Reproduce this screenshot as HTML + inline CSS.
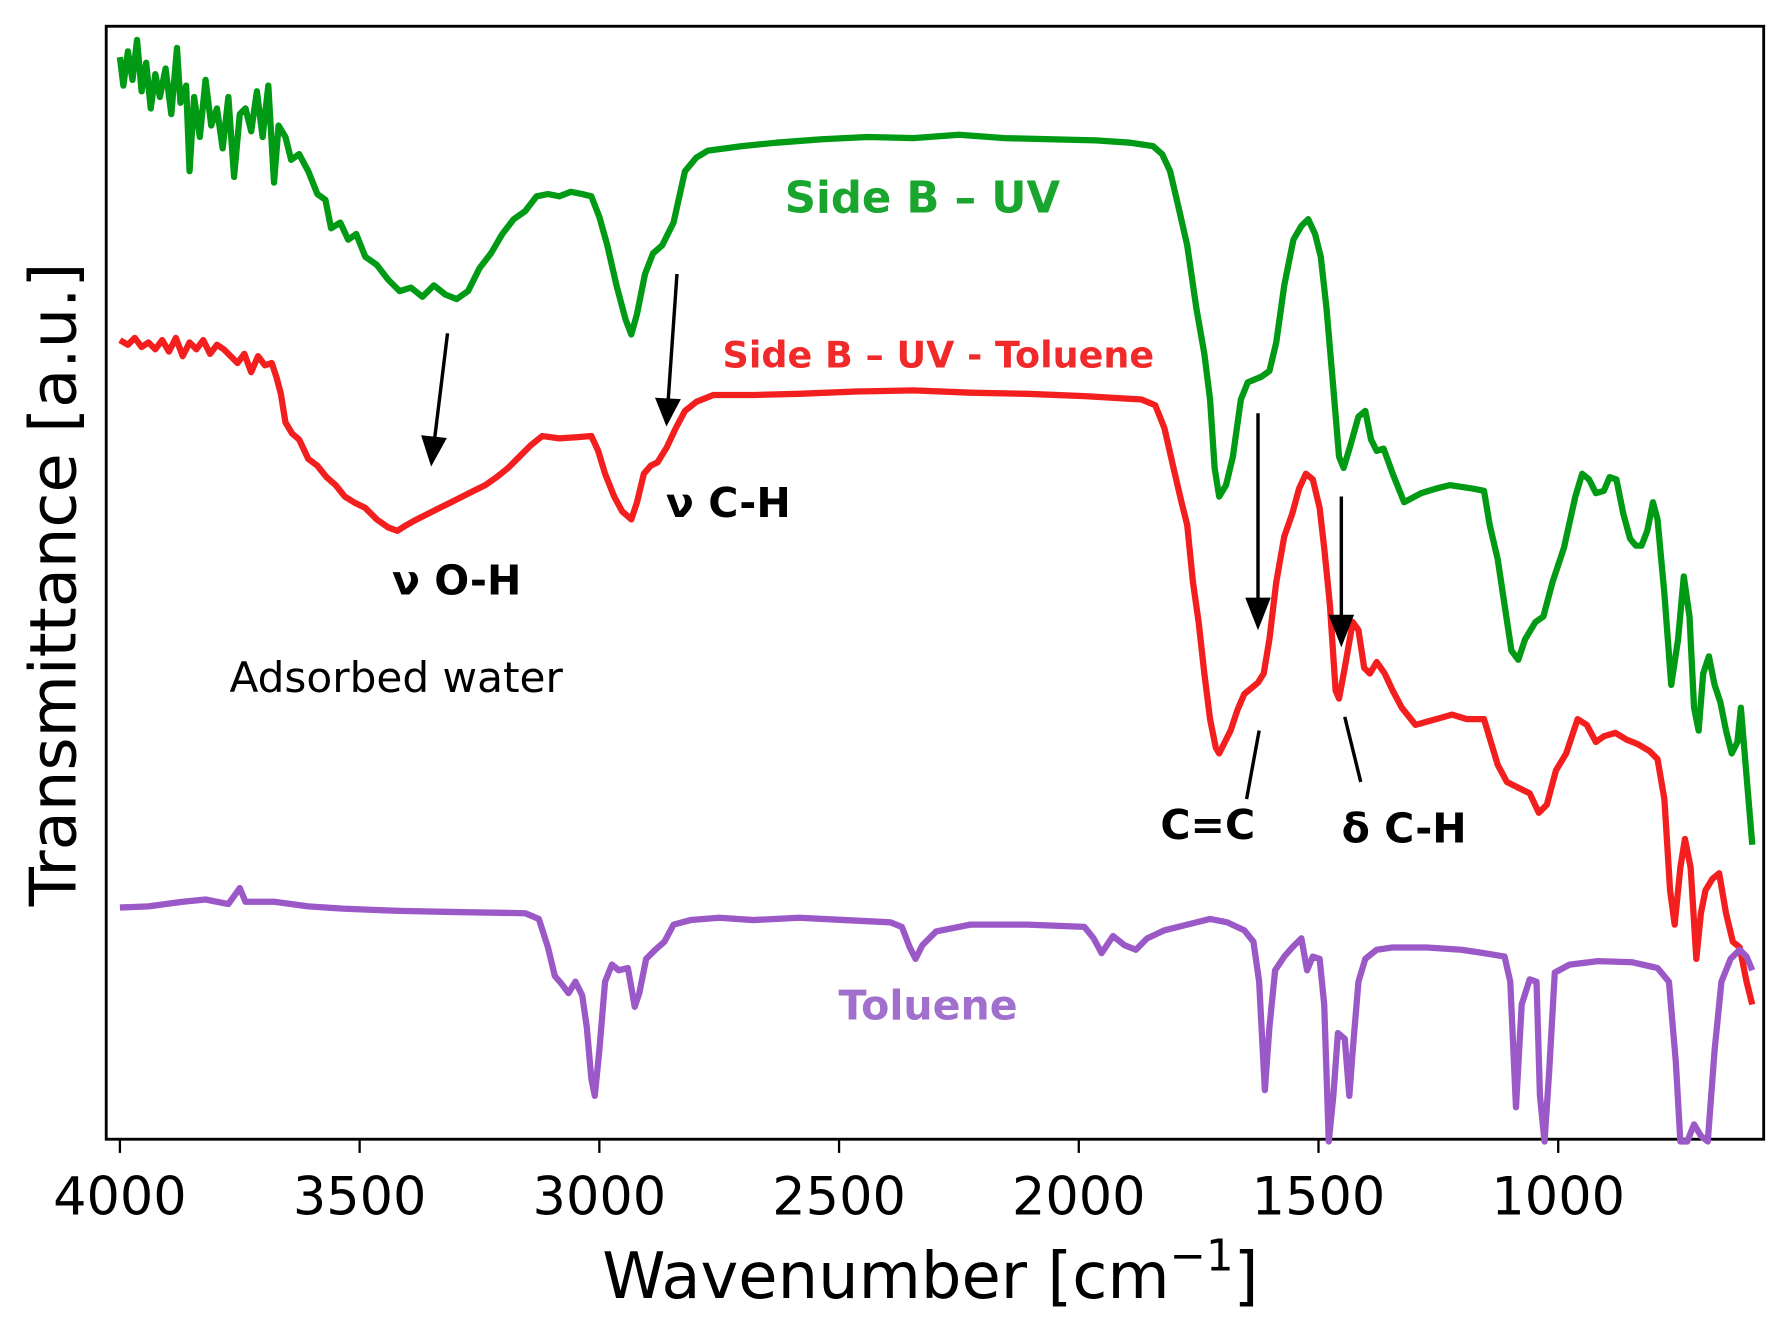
<!DOCTYPE html>
<html><head><meta charset="utf-8"><style>html,body{margin:0;padding:0;background:#fff}svg{display:block}</style></head>
<body>
<svg width="1790" height="1331" viewBox="0 0 1568 1166" xmlns="http://www.w3.org/2000/svg" font-family="DejaVu Sans, Liberation Sans, sans-serif">
<rect x="0" y="0" width="1568" height="1166" fill="#fff"/>
<rect x="93" y="23" width="1452" height="975" fill="none" stroke="#000" stroke-width="2.5"/>
<g stroke="#000" stroke-width="2">
<line x1="105" y1="998" x2="105" y2="1010"/><line x1="315" y1="998" x2="315" y2="1010"/><line x1="525" y1="998" x2="525" y2="1010"/><line x1="735" y1="998" x2="735" y2="1010"/><line x1="945" y1="998" x2="945" y2="1010"/><line x1="1155" y1="998" x2="1155" y2="1010"/><line x1="1365" y1="998" x2="1365" y2="1010"/>
</g>
<g font-size="46" text-anchor="middle" fill="#000">
<text x="105" y="1064">4000</text><text x="315" y="1064">3500</text><text x="525" y="1064">3000</text><text x="735" y="1064">2500</text><text x="945" y="1064">2000</text><text x="1155" y="1064">1500</text><text x="1365" y="1064">1000</text>
</g>
<text x="815" y="1137" font-size="56" text-anchor="middle">Wavenumber [cm<tspan font-size="38" dy="-24">−1</tspan><tspan dy="24">]</tspan></text>
<text transform="translate(66,512) rotate(-90)" font-size="56" text-anchor="middle">Transmittance [a.u.]</text>
<g fill="none" stroke-width="5.5" stroke-linejoin="round">
<polyline stroke="#009a14" points="105,50 108,75 112,45 116,70 120,35 124,80 128,55 132,95 136,65 140,85 145,60 150,100 155,42 158,90 163,75 166,150 170,85 175,120 180,70 185,110 190,95 195,130 200,85 205,155 210,100 215,95 220,115 225,80 230,120 235,75 240,160 244,110 250,120 255,140 262,135 270,150 278,170 285,175 290,200 298,195 305,210 312,205 320,225 330,232 340,245 350,255 360,252 370,260 380,250 390,258 400,262 410,255 420,235 430,222 440,205 450,192 460,185 470,172 480,170 490,172 500,168 510,170 518,172 525,190 532,215 540,250 548,280 553,293 558,275 565,240 572,222 580,215 590,195 600,150 610,138 620,132 650,128 680,125 720,122 760,120 800,121 840,118 880,121 920,122 960,123 990,125 1010,128 1018,135 1025,150 1032,180 1040,215 1048,270 1055,310 1060,350 1064,410 1068,435 1074,425 1080,400 1087,350 1093,335 1105,330 1112,325 1118,300 1125,250 1133,210 1140,198 1146,192 1152,205 1157,225 1162,270 1168,340 1173,400 1177,410 1183,390 1190,365 1196,360 1201,385 1206,395 1212,393 1220,415 1230,440 1245,432 1258,428 1270,425 1290,428 1300,430 1305,460 1312,490 1318,530 1324,570 1330,578 1336,560 1345,545 1352,540 1360,510 1370,480 1380,435 1386,415 1392,420 1398,432 1405,430 1410,418 1416,420 1422,450 1428,472 1433,478 1438,478 1443,465 1448,440 1452,455 1458,520 1464,600 1470,560 1475,505 1480,540 1484,620 1488,640 1492,590 1497,575 1502,600 1507,615 1512,640 1517,660 1522,650 1525,620 1530,680 1535,740"/>
<polyline stroke="#f31f1f" points="105,298 112,302 118,296 124,304 130,300 136,306 142,298 148,308 154,296 160,312 166,300 172,306 178,298 184,310 190,302 196,306 202,312 208,318 214,310 220,326 226,312 232,320 238,318 242,330 246,345 250,370 256,380 262,385 270,402 278,408 286,418 294,425 302,435 310,440 320,445 330,455 340,462 348,465 356,460 365,455 375,450 385,445 395,440 405,435 415,430 425,425 435,418 445,410 455,400 465,390 475,382 490,384 505,383 518,382 524,395 530,415 538,435 545,448 553,455 558,440 564,415 570,408 576,405 584,392 592,375 600,360 610,352 625,346 660,346 700,345 750,343 800,342 850,344 900,345 950,347 1000,350 1012,355 1020,375 1028,410 1035,440 1040,460 1045,510 1050,545 1055,590 1060,630 1065,655 1068,660 1073,650 1078,640 1084,622 1090,608 1096,603 1102,598 1107,590 1112,560 1118,510 1125,470 1132,450 1138,428 1144,415 1150,420 1156,445 1160,480 1165,530 1170,605 1173,612 1178,585 1185,545 1190,552 1195,585 1200,590 1206,580 1213,590 1220,605 1228,620 1240,635 1258,630 1272,626 1285,630 1300,630 1306,650 1312,670 1320,685 1330,690 1340,695 1348,712 1355,705 1363,675 1372,660 1382,630 1390,635 1398,650 1405,645 1415,642 1425,648 1435,652 1445,658 1452,665 1458,700 1463,780 1467,810 1472,760 1476,735 1481,760 1486,840 1490,800 1494,780 1500,770 1506,765 1512,800 1518,825 1524,830 1530,860 1535,880"/>
<polyline stroke="#9b59c8" points="105,795 130,794 160,790 180,788 200,792 210,778 215,790 240,790 270,794 300,796 350,798 400,799 460,800 472,805 480,830 486,855 492,862 498,870 504,860 510,872 514,900 518,945 521,960 525,920 530,860 536,845 542,850 550,848 556,882 560,870 566,840 574,832 582,825 590,810 605,806 630,804 660,806 700,804 740,806 780,808 790,812 797,830 802,840 808,828 820,816 850,810 900,810 950,812 958,822 965,835 975,820 985,828 995,832 1005,822 1020,815 1040,810 1060,805 1075,808 1090,815 1098,825 1103,860 1108,955 1112,900 1117,850 1125,838 1132,830 1140,822 1145,850 1150,838 1156,840 1160,880 1164,1000 1168,960 1172,905 1178,910 1182,960 1185,920 1190,860 1196,840 1206,832 1220,830 1250,830 1280,832 1300,835 1318,838 1323,860 1328,970 1333,880 1340,858 1346,860 1349,960 1353,1000 1357,940 1362,852 1375,845 1400,842 1430,843 1452,848 1462,860 1468,930 1472,1000 1478,1000 1484,985 1490,995 1496,1000 1502,920 1508,860 1516,840 1524,832 1530,838 1535,850"/>
</g>
<g stroke="#000" stroke-width="3" fill="#000">
<line x1="392" y1="292" x2="380" y2="390"/><polygon points="371,383 389,385 378,405"/>
<line x1="593" y1="240" x2="585" y2="355"/><polygon points="576,350 594,351 584,370"/>
<line x1="1102" y1="362" x2="1102" y2="530"/><polygon points="1093,525 1111,525 1102,548"/>
<line x1="1175" y1="435" x2="1175" y2="545"/><polygon points="1166,540 1184,540 1175,563"/>
<line x1="1103" y1="640" x2="1092" y2="700"/>
<line x1="1178" y1="628" x2="1192" y2="685"/>
</g>
<g font-weight="bold" text-anchor="middle">
<text x="808" y="186" font-size="38" fill="#1aa52e">Side B – UV</text>
<text x="822" y="322" font-size="32" fill="#f02a2a">Side B – UV - Toluene</text>
<text x="813" y="893" font-size="36" fill="#a070cc">Toluene</text>
<text x="638" y="453" font-size="36" fill="#000">ν C-H</text>
<text x="400" y="521" font-size="36" fill="#000">ν O-H</text>
<text x="1058" y="735" font-size="36" fill="#000">C=C</text>
<text x="1230" y="738" font-size="36" fill="#000">δ C-H</text>
</g>
<text x="347" y="606" font-size="37" text-anchor="middle" fill="#000">Adsorbed water</text>
</svg>
</body></html>
